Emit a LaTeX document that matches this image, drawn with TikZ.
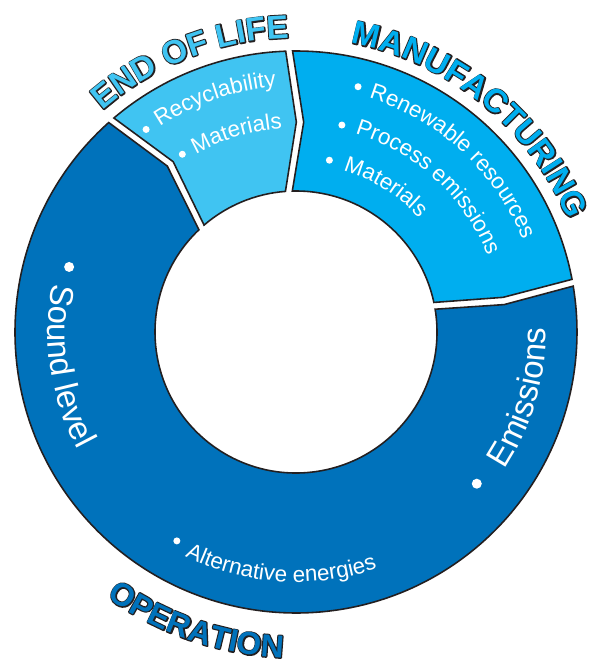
\documentclass[tikz,border=0pt]{standalone}
\usepackage{fontspec}
\setmainfont{Liberation Sans}
\usetikzlibrary{decorations.text}
\definecolor{eolblue}{RGB}{64,196,242}
\definecolor{manblue}{RGB}{0,174,239}
\definecolor{opblue}{RGB}{0,114,187}
\definecolor{rim}{RGB}{35,31,32}
\newcommand\smallitem{\fontsize{12.75}{15}\selectfont}
\newcommand\bigitem{\fontsize{18.7}{22}\selectfont}
\newcommand\ttlfont{\fontsize{18.7}{22}\selectfont\bfseries}
\newcommand\opttlfont{\fontsize{18.1}{22}\selectfont\bfseries}
\newcommand\strk{\special{pdf:literal direct 1 j 2 Tr 1.3 w}}
\newcommand\nostrk{\special{pdf:literal direct 0 Tr}}
\tikzset{seg/.style = {draw = rim,line width = .9pt,fill = #1},
dot/.style = {fill = white},
item/.style = {decorate,decoration = {text along path,text color = white,text = {#1}}},
ttlback/.style = {decorate,decoration = {text along path,text align = center,text color = rim,text = {#1}}},
ttlfront/.style 2 args = {decorate,decoration = {text along path,text align = center,text color = #1,text = {#2}}}}

\begin{document}
\begin{tikzpicture}[x = .02cm,y = .02cm]
\useasboundingbox (-296,-327) rectangle (304,332);

% the three parts of the ring
\draw[seg = opblue] (131.8:281) arc[start angle = 131.8,end angle = 369.4,radius = 281] -- (367.5:210) -- (369.3:141) arc[start angle = 369.3,end angle = 133.5,radius = 141] -- (127.8:210) -- cycle;
\draw[seg = eolblue] (92.1:281) arc[start angle = 92.1,end angle = 130.4,radius = 281] -- (125.8:210) -- (130.7:141) arc[start angle = 130.7,end angle = 94.3,radius = 141] -- (89.9:210) -- cycle;
\draw[seg = manblue] (10.8:281) arc[start angle = 10.8,end angle = 90.7,radius = 281] -- (87.9:210) -- (91.5:141) arc[start angle = 91.5,end angle = 12.1,radius = 141] -- (9.5:210) -- cycle;

% bullets
\fill[dot] (126.5:252) circle (3.5);
\fill[dot] (122.6:211) circle (3.5);
\fill[dot] (75.8:253) circle (3.5);
\fill[dot] (77.5:212) circle (3.5);
\fill[dot] (79:175) circle (3.5);
\fill[dot] (164:236) circle (5);
\fill[dot] (-40:236) circle (5);
\fill[dot] (-119.7:240.5) circle (3.5);

% items
\path[item = {|\smallitem|Recyclability}] (123.6:246) arc[start angle = 123.6,end angle = 60,radius = 246];
\path[item = {|\smallitem|Materials}] (119.4:204) arc[start angle = 119.4,end angle = 80,radius = 204];
\path[item = {|\smallitem|Renewable resources}] (72.7:245) arc[start angle = 72.7,end angle = 0,radius = 245];
\path[item = {|\smallitem|Process emissions}] (73.4:206.5) arc[start angle = 73.4,end angle = 0,radius = 206.5];
\path[item = {|\smallitem|Materials}] (73.7:168) arc[start angle = 73.7,end angle = 20,radius = 168];
\path[item = {|\bigitem|Sound level}] (168.7:248) arc[start angle = 168.7,end angle = 250,radius = 248];
\path[item = {|\bigitem|Emissions}] (-33.4:250) arc[start angle = -33.4,end angle = 30,radius = 250];
\path[item = {|\smallitem|Alternative energies}] (-116.4:250) arc[start angle = -116.4,end angle = -50,radius = 250];

% titles, outline first
\path[ttlback = {|\ttlfont\strk|END OF LIFE}] (141.25:294) arc[start angle = 141.25,end angle = 81.25,radius = 294];
\path[ttlfront = {eolblue}{|\ttlfont\nostrk|END OF LIFE}] (141.25:294) arc[start angle = 141.25,end angle = 81.25,radius = 294];
\path[ttlback = {|\ttlfont\strk|MANUFACTURING}] (90.8:294) arc[start angle = 90.8,end angle = 10.8,radius = 294];
\path[ttlfront = {manblue}{|\ttlfont\nostrk|MANUFACTURING}] (90.8:294) arc[start angle = 90.8,end angle = 10.8,radius = 294];
\path[ttlback = {|\opttlfont\strk|OPERATION}] (-138.9:326) arc[start angle = -138.9,end angle = -78.9,radius = 326];
\path[ttlfront = {opblue}{|\opttlfont\nostrk|OPERATION}] (-138.9:326) arc[start angle = -138.9,end angle = -78.9,radius = 326];
\end{tikzpicture}
\end{document}
